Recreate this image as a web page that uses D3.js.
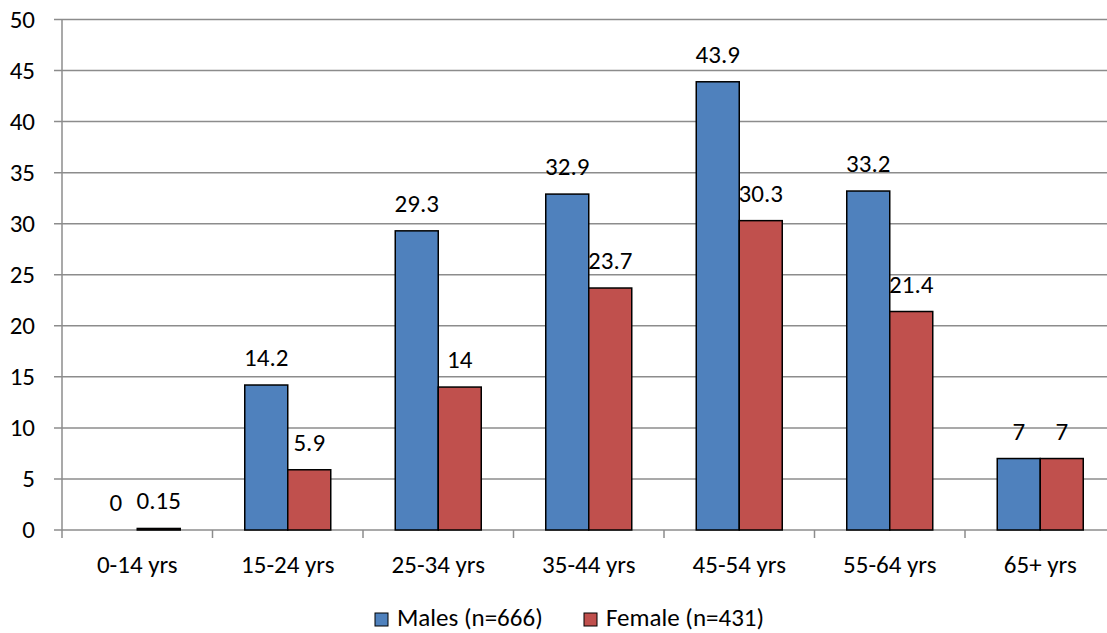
<!DOCTYPE html>
<html>
<head>
<meta charset="utf-8">
<script src="https://cdn.jsdelivr.net/npm/d3@7"></script>
<style>
  html, body { margin: 0; padding: 0; background: #fff; }
  svg { display: block; }
  text { font-family: Carlito, "Open Sans", Lato, sans-serif; fill: #000; font-size: 25px; }
</style>
</head>
<body>
<svg id="chart" width="1107" height="633"></svg>
<script>
// Age groups and the rate for each sex
const categories = ["0-14 yrs", "15-24 yrs", "25-34 yrs", "35-44 yrs", "45-54 yrs", "55-64 yrs", "65+ yrs"];
const males = [0, 14.2, 29.3, 32.9, 43.9, 33.2, 7];
const females = [0.15, 5.9, 14, 23.7, 30.3, 21.4, 7];
const seriesNames = ["Males (n=666)", "Female (n=431)"];
const seriesColors = ["#4F81BD", "#C0504D"];
const yTicks = [0, 5, 10, 15, 20, 25, 30, 35, 40, 45, 50];

const svg = d3.select("#chart");
const plot = { left: 62, right: 1115.5, top: 19.5, bottom: 530 };

const x = d3.scaleBand().domain(categories).range([plot.left, plot.right]).padding(0);
const sub = d3.scaleBand().domain([0, 1]).range([0, 86]);
const y = d3.scaleLinear().domain([0, 50]).range([plot.bottom, plot.top]);

// horizontal gridlines
svg.append("g").selectAll("line").data(yTicks).join("line")
  .attr("x1", plot.left - 8).attr("x2", 1107)
  .attr("y1", d => y(d)).attr("y2", d => y(d))
  .attr("stroke", "#8c8c8c").attr("stroke-width", 1.5);

// y axis line
svg.append("line").attr("x1", plot.left).attr("x2", plot.left)
  .attr("y1", plot.top).attr("y2", plot.bottom + 8)
  .attr("stroke", "#8c8c8c").attr("stroke-width", 1.5);

// y tick labels
svg.append("g").selectAll("text").data(yTicks).join("text")
  .attr("x", 35).attr("y", d => y(d))
  .attr("dy", "0.32em").attr("text-anchor", "end")
  .text(d => d);

// x ticks between categories
const boundaries = categories.map(c => x(c)).slice(1);
svg.append("g").selectAll("line").data(boundaries).join("line")
  .attr("x1", d => d).attr("x2", d => d)
  .attr("y1", plot.bottom).attr("y2", plot.bottom + 8)
  .attr("stroke", "#8c8c8c").attr("stroke-width", 1.5);

// x labels
svg.append("g").selectAll("text").data(categories).join("text")
  .attr("x", d => x(d) + x.bandwidth() / 2).attr("y", 573)
  .attr("text-anchor", "middle").text(d => d);

// bars
const rows = categories.map((c, i) => ({ c, vals: [males[i], females[i]] }));
const groups = svg.append("g").selectAll("g").data(rows).join("g")
  .attr("transform", d => `translate(${x(d.c) + x.bandwidth() / 2 - 43},0)`);

groups.selectAll("rect").data(d => d.vals.map((v, k) => ({ v, k }))).join("rect")
  .attr("x", d => sub(d.k)).attr("width", sub.bandwidth())
  .attr("y", d => y(d.v)).attr("height", d => y(0) - y(d.v))
  .attr("fill", d => seriesColors[d.k])
  .attr("stroke", d => d.v > 0 ? "#000" : "none").attr("stroke-width", 1.5);

groups.selectAll("text").data(d => d.vals.map((v, k) => ({ v, k }))).join("text")
  .attr("x", d => sub(d.k) + sub.bandwidth() / 2)
  .attr("y", d => y(d.v) - 19)
  .attr("text-anchor", "middle")
  .text(d => d.v);

// legend
const legendX = [375, 584];
const legend = svg.append("g").selectAll("g").data(seriesNames).join("g")
  .attr("transform", (d, i) => `translate(${legendX[i]},613)`);
legend.append("rect").attr("width", 13).attr("height", 13)
  .attr("fill", (d, i) => seriesColors[i]).attr("stroke", "#000").attr("stroke-width", 1);
legend.append("text").attr("x", 22).attr("y", 13)
  .text(d => d);
</script>
</body>
</html>
